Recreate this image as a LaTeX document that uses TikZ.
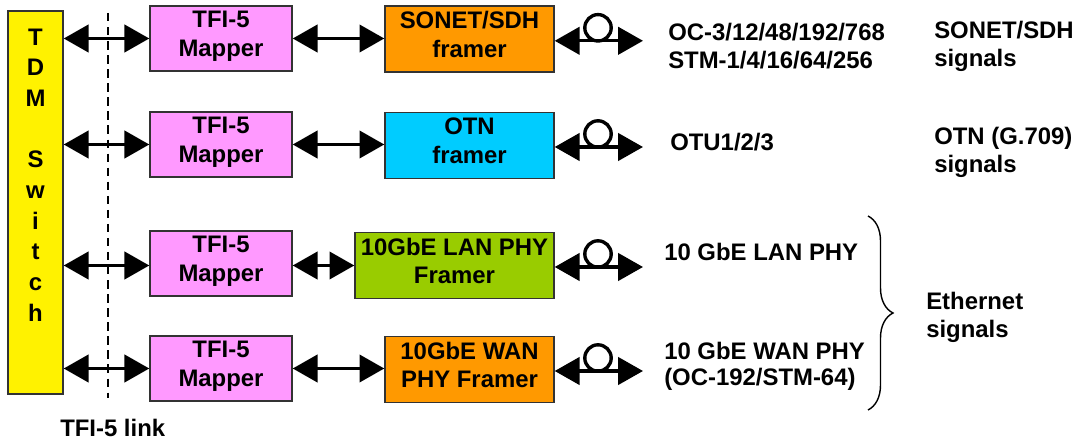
\documentclass[tikz,border=0pt]{standalone}
\usepackage{fontspec}
\setmainfont{Liberation Sans}
\usepackage{xcolor}
\usetikzlibrary{positioning, arrows.meta, decorations.pathreplacing}
\definecolor{mapcol}{HTML}{FF99FF}
\definecolor{sonetcol}{HTML}{FF9900}
\definecolor{otncol}{HTML}{00CCFF}
\definecolor{lancol}{HTML}{99CC00}

\begin{document}
\begin{tikzpicture}[
    block/.style={rectangle, draw=black!80, line width=1pt, align=center, inner sep=0pt, text depth=6.6pt, font=\fontsize{17}{20.5}\selectfont\bfseries},
    mapbox/.style={block, fill=mapcol, minimum width=3.55cm, minimum height=1.625cm},
    frambox/.style={block, minimum width=4.225cm, minimum height=1.65cm},
    lab/.style={font=\fontsize{17}{20}\selectfont\bfseries, align=left, anchor=west, inner sep=0pt},
    arr/.style={{Triangle[length=6.2mm, width=6.8mm]}-{Triangle[length=6.2mm, width=6.8mm]}, line width=2.4pt},
    coil/.style={circle, draw, line width=2.4pt, minimum size=0.66cm, inner sep=0pt},
]
\useasboundingbox (0,0) rectangle (26.9,11);

\node[block, fill=yellow, text depth=0pt, minimum width=1.375cm, minimum height=9.575cm] (tdm) at (0.8875, 5.9375) {};
\node[font=\fontsize{17}{21.8}\selectfont\bfseries, align=center] (tdmtext) at (0.8875, 6.625) {T\\D\\M\\[21.8pt]S\\w\\i\\t\\c\\h};

\node[mapbox] (mapa) at (5.525, 10.0375) {TFI-5\\Mapper};
\node[mapbox] (mapb) at (5.525, 7.3875) {TFI-5\\Mapper};
\node[mapbox] (mapc) at (5.525, 4.4125) {TFI-5\\Mapper};
\node[mapbox] (mapd) at (5.525, 1.7875) {TFI-5\\Mapper};

\node[frambox, fill=sonetcol] (frama) at (11.7375, 10.025) {SONET/SDH\\framer};
\node[frambox, fill=otncol] (framb) at (11.7375, 7.3625) {OTN\\framer};
\node[frambox, fill=lancol, minimum width=4.975cm] (framc) at (11.3625, 4.3625) {10GbE LAN PHY\\Framer};
\node[frambox, fill=sonetcol] (framd) at (11.7375, 1.7625) {10GbE WAN\\PHY Framer};

% TFI-5 link boundary
\coordinate (cuttop) at (2.7, 10.675);
\coordinate (cutbot) at (2.7, 1.05);
\draw[line width=1pt, dash pattern=on 6pt off 4pt] (cuttop) -- (cutbot);

\draw[arr] (tdm.east |- mapa) -- (mapa.west);
\draw[arr] (tdm.east |- mapb) -- (mapb.west);
\draw[arr] (tdm.east |- framc) -- (mapc.west |- framc);
\draw[arr] (tdm.east |- mapd) -- (mapd.west);

\draw[arr] (mapa.east) -- (mapa.east -| frama.west);
\draw[arr] (mapb.east) -- (mapb.east -| framb.west);
\draw[arr] (mapc.east |- framc) -- (framc.west);
\draw[arr] (mapd.east) -- (mapd.east -| framd.west);

\coordinate (outa) at (16.075, 9.98);
\coordinate (outb) at (16.075, 7.325);
\coordinate (outc) at (16.075, 4.325);
\coordinate (outd) at (16.075, 1.725);

\draw[arr] (frama.east |- outa) -- (outa);
\draw[arr] (framb.east |- outb) -- (outb);
\draw[arr] (framc.east |- outc) -- (outc);
\draw[arr] (framd.east |- outd) -- (outd);

\node[coil] (coila) at (14.95, 10.305) {};
\node[coil] (coilb) at (14.95, 7.65) {};
\node[coil] (coilc) at (14.95, 4.65) {};
\node[coil] (coild) at (14.95, 2.05) {};

\node[lab] (rateoc) at (16.7, 10.2) {OC-3/12/48/192/768};
\node[lab] (ratestm) at (16.7, 9.5) {STM-1/4/16/64/256};
\node[lab] (rateotu) at (16.75, 7.45) {OTU1/2/3};
\node[lab] (ratelan) at (16.6, 4.7) {10 GbE LAN PHY};
\node[lab] (ratewan) at (16.6, 2.225) {10 GbE WAN PHY};
\node[lab] (ratesub) at (16.6, 1.525) {(OC-192/STM-64)};

\node[lab] (sigsonet) at (23.35, 9.85) {SONET/SDH\\signals};
\node[lab] (sigotn) at (23.35, 7.2) {OTN (G.709)\\signals};
\node[lab] (sigeth) at (23.15, 3.075) {Ethernet\\signals};

\coordinate (bracetop) at (21.7, 5.6);
\coordinate (bracebot) at (21.7, 0.75);
\draw[decorate, decoration={brace, amplitude=0.625cm}, line width=1pt] (bracetop) -- (bracebot);

\node[lab] (linklab) at (1.5, 0.3) {TFI-5 link};

\end{tikzpicture}
\end{document}
